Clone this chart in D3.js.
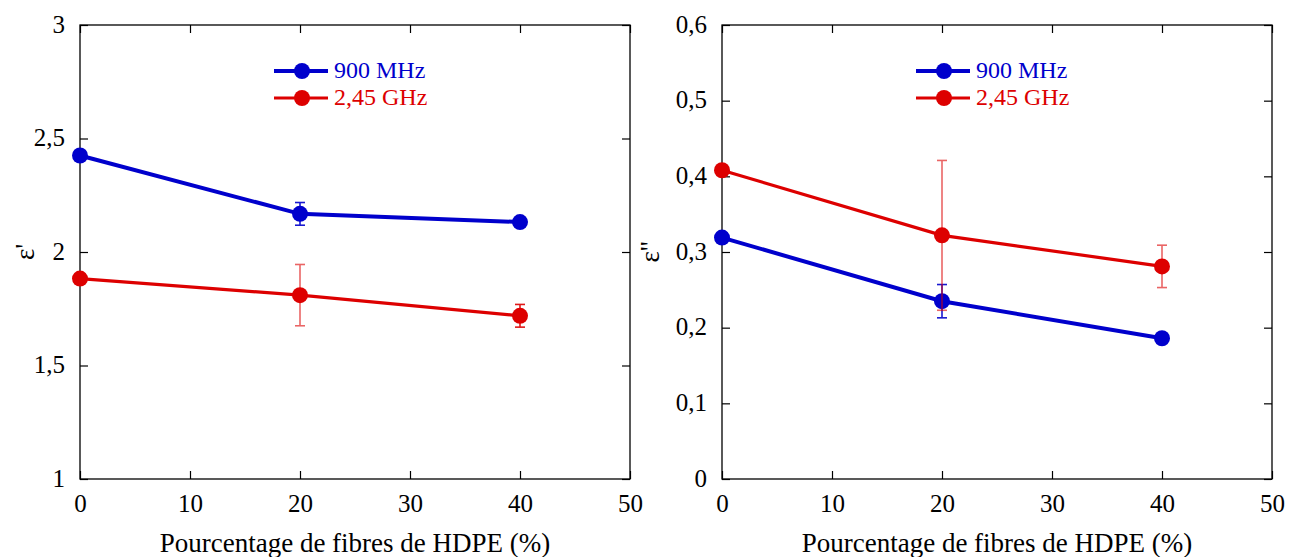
<!DOCTYPE html>
<html><head><meta charset="utf-8">
<script src="https://cdn.jsdelivr.net/npm/d3@7"></script>
<style>body{margin:0;background:#fff}svg{display:block}svg text{font-family:"Liberation Serif","Times New Roman",serif !important}</style>
</head><body><svg id="c" width="1290" height="557" font-family="Liberation Serif, serif"></svg>
<script>
const xValues = [0, 20, 40];
const xTicks = [0, 10, 20, 30, 40, 50];
const seriesNames = ["900 MHz", "2,45 GHz"];
const seriesColors = ["#0000cc", "#dd0000"];
// panel 1: epsilon'
const eps1_900 = [2.425, 2.168, 2.132];
const eps1_900_err = [0, 0.05, 0];
const eps1_245 = [1.883, 1.81, 1.719];
const eps1_245_err = [0, 0.135, 0.05];
const yTicks1 = [1, 1.5, 2, 2.5, 3];
// panel 2: epsilon''
const eps2_900 = [0.319, 0.235, 0.186];
const eps2_900_err = [0, 0.022, 0];
const eps2_245 = [0.408, 0.322, 0.281];
const eps2_245_err = [0, 0.099, 0.028];
const yTicks2 = [0, 0.1, 0.2, 0.3, 0.4, 0.5, 0.6];

const FONT = "Liberation Serif, Times New Roman, serif";
const svg = d3.select("#c");
const fmt = d => String(d).replace(".", ",");

function panel(left, yDomain, yTicks, ylabel, ylabelX, series, legendX) {
  const top = 25, bottom = 479, right = left + 550;
  const x = d3.scaleLinear().domain([0, 50]).range([left, right]);
  const y = d3.scaleLinear().domain(yDomain).range([bottom, top]);
  const g = svg.append("g");
  g.append("rect").attr("x", left).attr("y", top).attr("width", right - left).attr("height", bottom - top)
    .attr("fill", "none").attr("stroke", "#000").attr("stroke-width", 1.3);
  const tl = 8;
  const xa = g.append("g").attr("transform", `translate(0,${bottom})`)
    .call(d3.axisBottom(x).tickValues(xTicks).tickSize(-tl).tickPadding(15).tickFormat(d => d));
  const xt = g.append("g").attr("transform", `translate(0,${top})`)
    .call(d3.axisTop(x).tickValues(xTicks).tickSize(-tl).tickFormat(""));
  const ya = g.append("g").attr("transform", `translate(${left},0)`)
    .call(d3.axisLeft(y).tickValues(yTicks).tickSize(-tl).tickPadding(15).tickFormat(fmt));
  const yr = g.append("g").attr("transform", `translate(${right},0)`)
    .call(d3.axisRight(y).tickValues(yTicks).tickSize(-tl).tickFormat(""));
  [xa, xt, ya, yr].forEach(a => {
    a.attr("font-family", FONT);
    a.select(".domain").remove();
    a.selectAll("line").attr("stroke", "#000").attr("stroke-width", 1.2);
    a.selectAll("text").attr("font-size", 25).attr("fill", "#000").attr("font-family", FONT);
  });
  xa.selectAll("text").attr("dy", null).attr("y", 33);
  ya.selectAll("text").attr("dy", "0.28em");
  g.append("text").attr("x", (left + right) / 2).attr("y", 552).attr("text-anchor", "middle")
    .attr("font-family", FONT).attr("font-size", 27).text("Pourcentage de fibres de HDPE (%)");
  g.append("text").attr("transform", `translate(${ylabelX},${(top + bottom) / 2}) rotate(-90)`)
    .attr("text-anchor", "middle").attr("dy", "0.3em").attr("font-family", FONT).attr("font-size", 27).text(ylabel);

  series.forEach((s, i) => {
    const col = seriesColors[i];
    const line = d3.line().x((d, j) => x(xValues[j])).y(d => y(d));
    g.append("path").datum(s.v).attr("d", line).attr("fill", "none").attr("stroke", col)
      .attr("stroke-width", i === 0 ? 4 : 3.2);
    s.v.forEach((v, j) => {
      const e = s.e[j];
      if (e > 0) {
        const eg = g.append("g").attr("stroke", col).attr("stroke-width", 1.6)
          .attr("opacity", e > (yDomain[1] - yDomain[0]) * 0.04 ? 0.6 : 0.9);
        eg.append("line").attr("x1", x(xValues[j])).attr("x2", x(xValues[j])).attr("y1", y(v - e)).attr("y2", y(v + e));
        [v - e, v + e].forEach(w => eg.append("line").attr("x1", x(xValues[j]) - 5).attr("x2", x(xValues[j]) + 5)
          .attr("y1", y(w)).attr("y2", y(w)));
      }
      g.append("circle").attr("cx", x(xValues[j])).attr("cy", y(v)).attr("r", 8).attr("fill", col);
    });
    const ly = 71 + i * 27;
    g.append("line").attr("x1", legendX).attr("x2", legendX + 54).attr("y1", ly).attr("y2", ly)
      .attr("stroke", col).attr("stroke-width", i === 0 ? 4 : 3.2);
    g.append("circle").attr("cx", legendX + 28).attr("cy", ly).attr("r", 8).attr("fill", col);
    g.append("text").attr("x", legendX + 60).attr("y", ly + 7).attr("font-family", FONT)
      .attr("font-size", 24).attr("fill", col).text(seriesNames[i]);
  });
}

panel(80, [1, 3], yTicks1, "ε'", 26, [{v: eps1_900, e: eps1_900_err}, {v: eps1_245, e: eps1_245_err}], 274);
panel(722, [0, 0.6], yTicks2, "ε''", 651, [{v: eps2_900, e: eps2_900_err}, {v: eps2_245, e: eps2_245_err}], 916);
</script></body></html>
